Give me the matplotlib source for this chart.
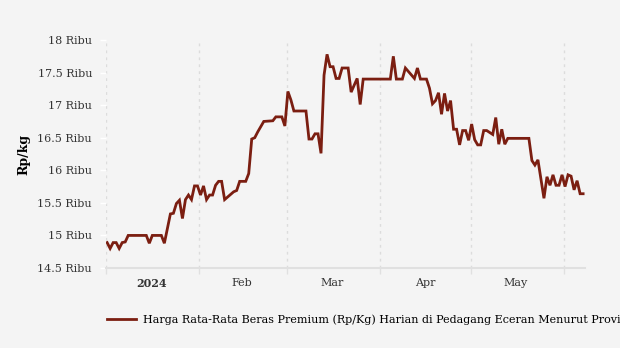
import numpy as np
import matplotlib
matplotlib.use("Agg")
import matplotlib.pyplot as plt
import matplotlib.dates as mdates
from matplotlib.ticker import FixedLocator, FuncFormatter

# day offsets from 1 Jan 2024 and the average premium rice price (thousand Rp/kg)
days = [0, 1, 2, 3, 4, 5, 6, 7, 13, 14, 15, 18, 19, 21, 22, 23, 24, 25, 26, 27,
        28, 29, 30, 31, 32, 33, 34, 35, 36, 37, 38, 39, 42, 43, 44, 46, 47, 48,
        49, 50, 52, 55, 56, 58, 59, 60, 61, 62, 66, 67, 68, 69, 70, 71, 72, 73,
        74, 75, 76, 77, 78, 80, 81, 83, 84, 85, 94, 95, 96, 98, 99, 102, 103,
        104, 106, 107, 108, 109, 110, 111, 112, 113, 114, 115, 116, 117, 118,
        119, 120, 121, 122, 123, 124, 125, 126, 128, 129, 130, 131, 132, 133,
        140, 141, 142, 143, 145, 146, 147, 148, 149, 150, 151, 152, 153, 154,
        155, 156, 157, 158]
prices = [14.89, 14.80, 14.89, 14.89, 14.80, 14.89, 14.90, 15.00, 15.00, 14.88,
          15.00, 15.00, 14.88, 15.33, 15.34, 15.49, 15.54, 15.26, 15.55, 15.62,
          15.55, 15.76, 15.76, 15.62, 15.76, 15.55, 15.62, 15.62, 15.77, 15.83,
          15.83, 15.55, 15.67, 15.69, 15.83, 15.83, 15.95, 16.48, 16.50, 16.59,
          16.75, 16.76, 16.82, 16.82, 16.68, 17.21, 17.08, 16.91, 16.91, 16.48,
          16.48, 16.56, 16.56, 16.26, 17.46, 17.78, 17.59, 17.59, 17.41, 17.41,
          17.57, 17.57, 17.20, 17.41, 17.01, 17.40, 17.40, 17.75, 17.40, 17.40,
          17.57, 17.41, 17.57, 17.40, 17.40, 17.26, 17.02, 17.07, 17.19, 16.86,
          17.18, 16.91, 17.07, 16.63, 16.63, 16.39, 16.61, 16.61, 16.46, 16.71,
          16.47, 16.39, 16.39, 16.61, 16.61, 16.55, 16.81, 16.40, 16.63, 16.40,
          16.49, 16.49, 16.15, 16.08, 16.16, 15.57, 15.90, 15.77, 15.93, 15.77,
          15.77, 15.93, 15.75, 15.93, 15.91, 15.70, 15.84, 15.64, 15.64]

month_starts = ["2024-01-01", "2024-02-01", "2024-03-01", "2024-04-01",
                "2024-05-01", "2024-06-01"]
month_labels = ["2024", "Feb", "Mar", "Apr", "May"]
y_ticks = [14.5, 15, 15.5, 16, 16.5, 17, 17.5, 18]
series_name = ("Harga Rata-Rata Beras Premium (Rp/Kg) Harian di Pedagang "
               "Eceran Menurut Provinsi")

# daily readings are stamped in local time (UTC+7), so they sit a bit past midnight
dates = (np.datetime64("2024-01-01T00:00") + np.array(days, dtype="timedelta64[D]")
         + np.timedelta64(9, "h"))
starts = np.array(month_starts, dtype="datetime64[D]")
mids = starts[:-1] + (starts[1:] - starts[:-1]) // 2

plt.rcParams["font.family"] = "DejaVu Serif"
bg = "#f4f4f4"
fig = plt.figure(figsize=(6.2, 3.48), dpi=100, facecolor=bg)
ax = fig.add_axes([106 / 620, 80 / 348, 479 / 620, 228 / 348], facecolor=bg)

ax.plot(dates, prices, color="#7b1e11", lw=2.0, solid_joinstyle="miter",
        label=series_name, zorder=3)

ax.set_xlim(np.datetime64("2024-01-01"), np.datetime64("2024-06-08"))
ax.set_ylim(14.5, 18)

# month boundaries carry the grid and tick marks, labels sit mid-month
ax.xaxis.set_major_locator(FixedLocator(mdates.date2num(starts)))
ax.xaxis.set_major_formatter(FuncFormatter(lambda v, p: ""))
ax.xaxis.set_minor_locator(FixedLocator(mdates.date2num(mids)))
ax.xaxis.set_minor_formatter(FuncFormatter(lambda v, p: month_labels[p]))
ax.tick_params(axis="x", which="major", length=4, color="#e0e0e0", width=1)
ax.tick_params(axis="x", which="minor", length=0, pad=7, labelsize=8,
               labelcolor="#333333")
for lbl in ax.xaxis.get_minorticklabels():
    if lbl.get_text() == "2024":
        lbl.set_fontweight("bold")
ax.grid(axis="x", which="major", color="#dcdcdc", linestyle=(0, (2, 3)), lw=1)

ax.set_yticks(y_ticks)
ax.yaxis.set_major_formatter(FuncFormatter(lambda v, p: f"{v:g} Ribu"))
ax.tick_params(axis="y", length=4, color="#ffffff", width=1, labelsize=8,
               labelcolor="#333333", pad=6)
ax.set_ylabel("Rp/kg", fontweight="bold", fontsize=9, labelpad=5)

for side in ["top", "right", "left"]:
    ax.spines[side].set_visible(False)
ax.spines["bottom"].set_color("#e0e0e0")
ax.spines["bottom"].set_linewidth(1.5)

fig.legend(loc="center left", bbox_to_anchor=(107 / 620, 1 - 320 / 348),
           frameon=False, fontsize=8, handlelength=2.6, handletextpad=0.65,
           borderpad=0, borderaxespad=0)

fig.savefig("out.png", dpi=100, facecolor=bg)
